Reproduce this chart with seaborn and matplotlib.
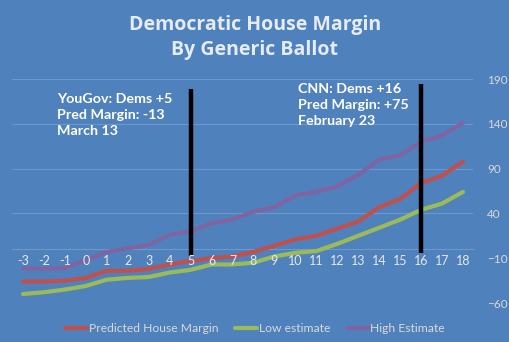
import matplotlib
matplotlib.use("Agg")
import matplotlib.pyplot as plt
import seaborn as sns
import pandas as pd

# ---- data ----
categories = list(range(-3, 19))
predicted = [-36, -36, -35, -32, -24, -24, -22, -17, -13, -10, -8, -3, 4, 11, 15, 23, 31, 47, 56, 74, 82, 98]
low_est = [-50, -48, -45, -41, -34, -32, -31, -26, -23, -17, -17, -15, -8, -4, -2, 6, 15, 24, 33, 44, 51, 64]
high_est = [-21, -22, -21, -12, -3, 1, 5, 16, 20, 29, 33, 42, 47, 60, 64, 70, 83, 100, 105, 120, 127, 141]
series_names = ["Predicted House Margin", "Low estimate", "High Estimate"]
marker_x = [5, 16]
marker_bottom = [-7, -4]
marker_top = [179, 184]
notes = ["YouGov: Dems +5\nPred Margin: -13\nMarch 13", "CNN: Dems +16\nPred Margin: +75\nFebruary 23"]
y_ticks = [-60, -10, 40, 90, 140, 190]
title = "Democratic House Margin\nBy Generic Ballot"

BG = "#4F81BD"
colors = ["#C0504D", "#9BBB59", "#8064A2"]

sns.set_theme(style="white")
plt.rcParams['font.family'] = ['Lato', 'DejaVu Sans']

df = pd.DataFrame({
    "x": categories * 3,
    "y": predicted + low_est + high_est,
    "series": [series_names[0]] * len(categories) + [series_names[1]] * len(categories) + [series_names[2]] * len(categories),
})

fig = plt.figure(figsize=(5.1, 3.42), dpi=100, facecolor=BG)
ax = fig.add_axes([12.5 / 510, 1 - 303 / 342, 461 / 510, 224 / 342])
ax.set_facecolor(BG)

sns.lineplot(data=df, x="x", y="y", hue="series", palette=colors, linewidth=3,
             ax=ax, legend=True, zorder=2)

ax.vlines(marker_x, marker_bottom, marker_top, colors="black", linewidth=3.2, zorder=2.2)

ax.set_xlim(categories[0] - 0.5, categories[-1] + 0.5)
ax.set_ylim(y_ticks[0], y_ticks[-1])

ax.set_yticks(y_ticks)
ax.yaxis.tick_right()
ax.tick_params(axis="y", length=0, pad=10, labelsize=8.5, labelcolor="#D9D9D9")
ax.set_xticks(categories)
ax.set_xticklabels([str(c) for c in categories])
ax.tick_params(axis="x", length=0, pad=4, labelsize=9, labelcolor="#E8E8E8")
ax.xaxis.set_zorder(5)

ax.grid(axis="y", color="#6E98CB", linewidth=0.8, zorder=0)
ax.grid(axis="x", visible=False)
for gl, t in zip(ax.get_ygridlines(), y_ticks):
    gl.set_zorder(0.5)
    if t == -10:
        gl.set_visible(False)

for s in ["left", "right", "top"]:
    ax.spines[s].set_visible(False)
ax.spines["bottom"].set_position(("data", 0))
ax.spines["bottom"].set_color("#6E98CB")
ax.spines["bottom"].set_linewidth(0.8)
ax.spines["bottom"].set_zorder(0.5)
ax.set_xlabel("")
ax.set_ylabel("")

handles, labels = ax.get_legend_handles_labels()
ax.get_legend().remove()
fig.legend(handles, labels, loc="center", bbox_to_anchor=(0.5, 1 - 329 / 342), ncol=3,
           frameon=False, fontsize=8.7, labelcolor="#D9D9D9", handlelength=1.8,
           handletextpad=0.15, columnspacing=1.4)

fig.text(57 / 510, 1 - 93 / 342, notes[0], color="white", fontsize=10.3, fontweight="bold",
         va="top", ha="left", linespacing=1.38)
fig.text(298 / 510, 1 - 83 / 342, notes[1], color="white", fontsize=10.3, fontweight="bold",
         va="top", ha="left", linespacing=1.38)

fig.text(0.5, 1 - 25 / 342, title.split("\n")[0], color="#E6ECF5", fontsize=14, fontweight="bold",
         ha="center", va="center", family=["Open Sans", "DejaVu Sans"])
fig.text(0.5, 1 - 50 / 342, title.split("\n")[1], color="#E6ECF5", fontsize=14, fontweight="bold",
         ha="center", va="center", family=["Open Sans", "DejaVu Sans"])

fig.savefig("out.png", dpi=100, facecolor=BG)
